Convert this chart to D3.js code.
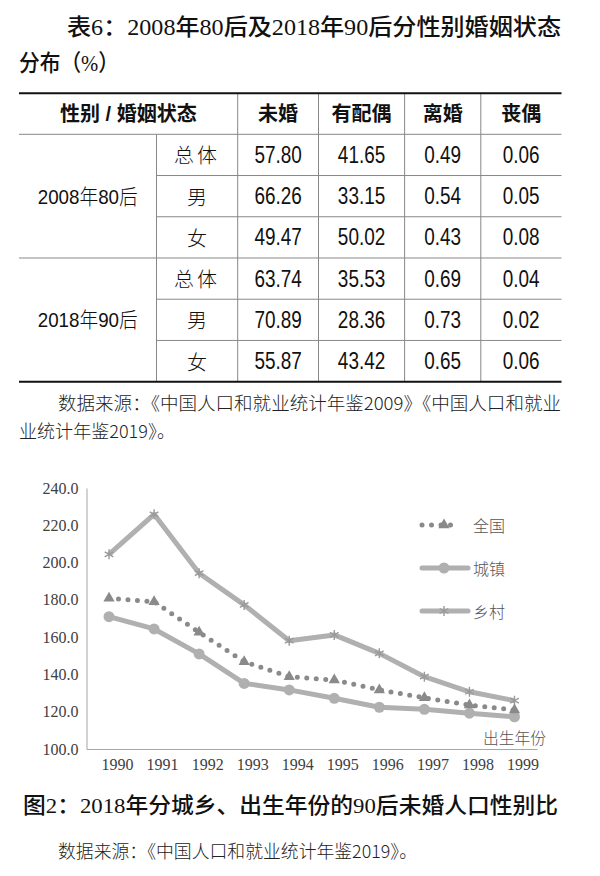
<!DOCTYPE html>
<html>
<head>
<meta charset="utf-8">
<script src="https://cdn.jsdelivr.net/npm/d3@7"></script>
<style>
  body { margin: 0; background: #fff; }
  svg { display: block; }
</style>
</head>
<body>
<svg id="page"></svg>
<script>
// ---- table data ----
const tableHeaders = ["未婚", "有配偶", "离婚", "丧偶"];
const cohorts = ["2008年80后", "2018年90后"];
const sexes = ["总体", "男", "女"];
const values2008 = [
  [57.80, 41.65, 0.49, 0.06],
  [66.26, 33.15, 0.54, 0.05],
  [49.47, 50.02, 0.43, 0.08]
];
const values2018 = [
  [63.74, 35.53, 0.69, 0.04],
  [70.89, 28.36, 0.73, 0.02],
  [55.87, 43.42, 0.65, 0.06]
];

// ---- chart data ----
const years = [1990, 1991, 1992, 1993, 1994, 1995, 1996, 1997, 1998, 1999];
const national = [180.8, 179.0, 162.6, 146.8, 138.8, 137.0, 131.7, 127.5, 123.6, 120.9];
const urban = [171.0, 164.4, 151.0, 135.2, 131.7, 127.2, 122.4, 121.3, 119.2, 117.3];
const rural = [204.4, 225.9, 194.3, 177.3, 158.1, 161.2, 151.3, 138.8, 130.7, 125.9];
const seriesNames = ["全国", "城镇", "乡村"];
const yTicks = [100, 120, 140, 160, 180, 200, 220, 240];

const width = 600;
const height = 876;
const serifCJK = '"Liberation Serif", "Noto Sans CJK SC", serif';
const sansCJK = '"Liberation Sans", "Noto Sans CJK SC", sans-serif';
const lightCJK = '"Noto Sans CJK SC", sans-serif';

const svg = d3.select("#page")
  .attr("width", width)
  .attr("height", height);

// titles and sources
function textLine(x, y, str, size, family, weight, len, color) {
  const t = svg.append("text")
    .attr("x", x)
    .attr("y", y)
    .attr("dominant-baseline", "central")
    .style("font-family", family)
    .style("font-size", size + "px")
    .style("font-weight", weight)
    .style("fill", color || "#111")
    .text(str);
  if (len) t.attr("textLength", len).attr("lengthAdjust", "spacingAndGlyphs");
  return t;
}

textLine(67, 27, "表6：2008年80后及2018年90后分性别婚姻状态", 23, serifCJK, 500, 494);
textLine(19, 63, "分布（%）", 23, serifCJK, 500, 100);

// ---- table ----
const colEdges = [19, 156.5, 237.7, 318.5, 404.6, 480.8, 561.5];
const tableTop = 93.3;
const headerBottom = 134.3;
const rowH = 41.23;
const rowY = d3.range(7).map(i => headerBottom + i * rowH);
const tableBottom = rowY[6];
const grid = svg.append("g").attr("stroke", "#888").attr("stroke-width", 1);

// vertical rules
colEdges.slice(2, 6).forEach(x => {
  grid.append("line").attr("x1", x).attr("x2", x).attr("y1", tableTop).attr("y2", tableBottom);
});
grid.append("line").attr("x1", colEdges[1]).attr("x2", colEdges[1]).attr("y1", headerBottom).attr("y2", tableBottom);

// horizontal rules
grid.append("line").attr("x1", colEdges[0]).attr("x2", colEdges[6]).attr("y1", headerBottom).attr("y2", headerBottom);
grid.append("line").attr("x1", colEdges[0]).attr("x2", colEdges[6]).attr("y1", rowY[3]).attr("y2", rowY[3]);
[1, 2, 4, 5].forEach(i => {
  grid.append("line").attr("x1", colEdges[1]).attr("x2", colEdges[6]).attr("y1", rowY[i]).attr("y2", rowY[i]);
});
svg.append("line").attr("x1", colEdges[0]).attr("x2", colEdges[6])
  .attr("y1", tableTop).attr("y2", tableTop).attr("stroke", "#111").attr("stroke-width", 2);
svg.append("line").attr("x1", colEdges[0]).attr("x2", colEdges[6])
  .attr("y1", tableBottom).attr("y2", tableBottom).attr("stroke", "#111").attr("stroke-width", 2);

const cell = (x, y, str, size, family, weight) => svg.append("text")
  .attr("x", x).attr("y", y)
  .attr("text-anchor", "middle")
  .attr("dominant-baseline", "central")
  .style("font-family", family)
  .style("font-size", size + "px")
  .style("font-weight", weight)
  .style("fill", "#111")
  .text(str);

const headerY = (tableTop + headerBottom) / 2;
cell((colEdges[0] + colEdges[2]) / 2, headerY, "性别 / 婚姻状态", 20, sansCJK, 700);
tableHeaders.forEach((h, i) => {
  cell((colEdges[i + 2] + colEdges[i + 3]) / 2, headerY, h, 20, sansCJK, 700);
});

// narrow-looking numbers: squeeze the regular sans to the width of a condensed face
const fmt = d3.format(".2f");
const narrowLen = s => s.replace(/\./g, "").length * 10.6 + 5;

[values2008, values2018].forEach((block, g) => {
  const lbl = cell((colEdges[0] + colEdges[1]) / 2, (rowY[g * 3] + rowY[g * 3 + 3]) / 2, cohorts[g], 21, sansCJK, 300);
  lbl.attr("textLength", 100).attr("lengthAdjust", "spacingAndGlyphs");
  block.forEach((row, r) => {
    const cy = (rowY[g * 3 + r] + rowY[g * 3 + r + 1]) / 2;
    cell((colEdges[1] + colEdges[2]) / 2, cy, sexes[r], 20, lightCJK, 300)
      .attr("letter-spacing", sexes[r].length > 1 ? 3 : 0);
    row.forEach((v, c) => {
      const s = fmt(v);
      cell((colEdges[c + 2] + colEdges[c + 3]) / 2, cy, s, 23, sansCJK, 400)
        .attr("textLength", narrowLen(s))
        .attr("lengthAdjust", "spacingAndGlyphs");
    });
  });
});

textLine(58, 402, "数据来源：《中国人口和就业统计年鉴2009》《中国人口和就业", 18, lightCJK, 300, 503, "#222");
textLine(19, 430, "业统计年鉴2019》。", 18, lightCJK, 300, 156, "#222");

// ---- line chart ----
const x = d3.scalePoint().domain(years).range([86.5, 537]).padding(0.5);
const y = d3.scaleLinear().domain([100, 240]).range([749, 488]);

const lineColor = "#b0b0b0";
const dotColor = "#8a8a8a";
const axisColor = "#a6a6a6";

// axes
const yAxis = svg.append("g")
  .attr("transform", `translate(${x.range()[0]},0)`)
  .call(d3.axisLeft(y).tickValues(yTicks).tickSize(0).tickPadding(8).tickFormat(d3.format(".1f")));
yAxis.select(".domain").attr("stroke", axisColor);
yAxis.selectAll("text")
  .style("font-family", '"Liberation Serif", serif')
  .style("font-size", "16px")
  .style("fill", "#404040");

const xAxis = svg.append("g")
  .attr("transform", `translate(0,${y(100)})`)
  .call(d3.axisBottom(x).tickSize(0).tickPadding(10));
xAxis.select(".domain").attr("stroke", axisColor);
xAxis.selectAll("text")
  .attr("dx", 8)
  .style("font-family", '"Liberation Serif", serif')
  .style("font-size", "16px")
  .style("fill", "#404040");

const line = d3.line().x((d, i) => x(years[i])).y(d => y(d));

// rural
svg.append("path").datum(rural)
  .attr("d", line).attr("fill", "none")
  .attr("stroke", lineColor).attr("stroke-width", 5).attr("stroke-linejoin", "round");
svg.append("g").selectAll("path").data(rural).join("path")
  .attr("transform", (d, i) => `translate(${x(years[i])},${y(d)})`)
  .attr("d", d3.symbol(d3.symbolAsterisk, 70))
  .attr("fill", "none").attr("stroke", "#9a9a9a").attr("stroke-width", 1.4);

// urban
svg.append("path").datum(urban)
  .attr("d", line).attr("fill", "none")
  .attr("stroke", lineColor).attr("stroke-width", 5).attr("stroke-linejoin", "round");
svg.append("g").selectAll("circle").data(urban).join("circle")
  .attr("cx", (d, i) => x(years[i])).attr("cy", d => y(d))
  .attr("r", 5.5).attr("fill", lineColor);

// national (dotted)
svg.append("path").datum(national)
  .attr("d", line).attr("fill", "none")
  .attr("stroke", dotColor).attr("stroke-width", 5)
  .attr("stroke-linecap", "round").attr("stroke-dasharray", "0 9.5");
svg.append("g").selectAll("path").data(national).join("path")
  .attr("transform", (d, i) => `translate(${x(years[i])},${y(d)})`)
  .attr("d", d3.symbol(d3.symbolTriangle, 55))
  .attr("fill", dotColor);

// legend
const legendY = [525, 568, 611];
const lg = svg.append("g");
// 全国
lg.append("line").attr("x1", 422).attr("x2", 458).attr("y1", legendY[0]).attr("y2", legendY[0])
  .attr("stroke", dotColor).attr("stroke-width", 5).attr("stroke-linecap", "round").attr("stroke-dasharray", "0 9.5");
lg.append("path").attr("transform", `translate(444,${legendY[0]})`)
  .attr("d", d3.symbol(d3.symbolTriangle, 55)).attr("fill", dotColor);
// 城镇
lg.append("line").attr("x1", 422).attr("x2", 468).attr("y1", legendY[1]).attr("y2", legendY[1])
  .attr("stroke", lineColor).attr("stroke-width", 5).attr("stroke-linecap", "round");
lg.append("circle").attr("cx", 444).attr("cy", legendY[1]).attr("r", 5.5).attr("fill", lineColor);
// 乡村
lg.append("line").attr("x1", 422).attr("x2", 468).attr("y1", legendY[2]).attr("y2", legendY[2])
  .attr("stroke", lineColor).attr("stroke-width", 5).attr("stroke-linecap", "round");
lg.append("path").attr("transform", `translate(444,${legendY[2]})`)
  .attr("d", d3.symbol(d3.symbolAsterisk, 70)).attr("fill", "none").attr("stroke", "#9a9a9a").attr("stroke-width", 1.4);

seriesNames.forEach((s, i) => {
  textLine(473, legendY[i], s, 16, lightCJK, 300, null, "#555");
});

textLine(483, 737, "出生年份", 16, lightCJK, 300, 63, "#555");

// figure caption
textLine(23, 805, "图2：2018年分城乡、出生年份的90后未婚人口性别比", 22, serifCJK, 500, 535);
textLine(58, 850, "数据来源：《中国人口和就业统计年鉴2019》。", 18, lightCJK, 300, 359, "#222");
</script>
</body>
</html>
